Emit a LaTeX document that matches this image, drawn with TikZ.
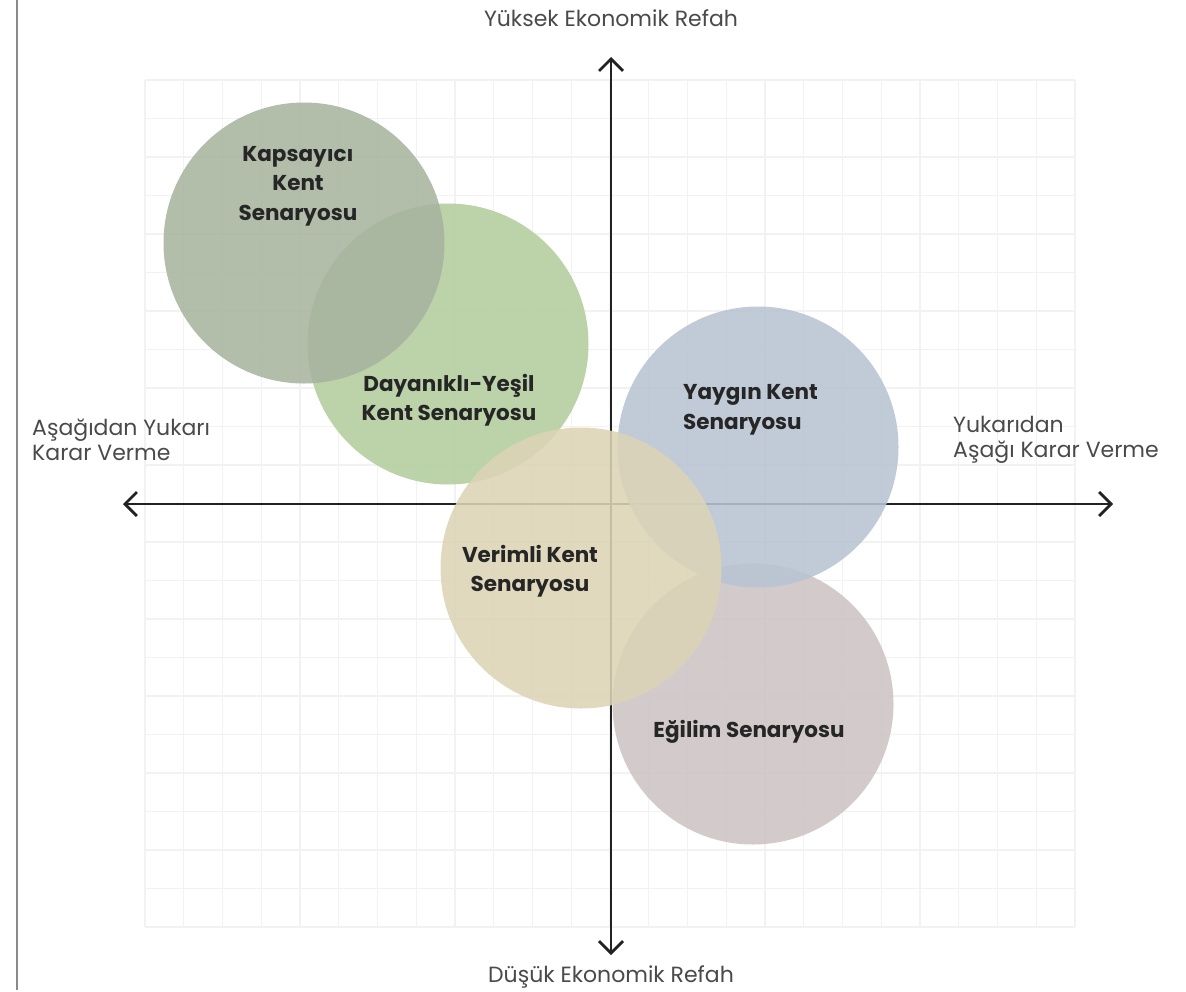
\documentclass[tikz,border=0pt]{standalone}
\usepackage{fontspec}
\setmainfont{Poppins}
\usetikzlibrary{arrows.meta}
\definecolor{kapc}{HTML}{A8B49F}
\definecolor{dayc}{HTML}{B3CE9E}
\definecolor{yayc}{HTML}{B8C4D2}
\definecolor{verc}{HTML}{DCD4B6}
\definecolor{egic}{HTML}{CEC3C4}
\definecolor{gridc}{HTML}{F2F2F2}
\definecolor{axc}{HTML}{222222}
\definecolor{labc}{HTML}{262626}
\definecolor{axtc}{HTML}{4A4A4A}
\definecolor{bordc}{HTML}{8A8A8A}
\begin{document}
\begin{tikzpicture}[x=1pt,y=-1pt,
  gridl/.style={draw=gridc,line width=1.4pt},
  axis/.style={draw=axc,line width=2.8pt,{Straight Barb[length=12pt,width=24pt]}-{Straight Barb[length=12pt,width=24pt]}},
  blob/.style={circle,inner sep=0pt,minimum size=281pt,opacity=0.88},
  lbl/.style={font=\fontsize{21.5}{29.5}\selectfont\bfseries,text=labc,align=center,inner sep=0pt},
  axlbl/.style={font=\fontsize{22}{25}\selectfont,text=axtc,inner sep=0pt}]
\useasboundingbox (0,0) rectangle (1186,991);
\fill[white] (0,0) rectangle (1186,991);
% left border
\coordinate (bt) at (17,0);
\coordinate (bb) at (17,990);
\draw[draw=bordc,line width=2pt] (bt) -- (bb);
% grid
\foreach \i in {0,...,24} {\draw[gridl] (145+38.75*\i,80) -- (145+38.75*\i,927);}
\foreach \j in {0,...,22} {\draw[gridl] (145,80+38.5*\j) -- (1075,80+38.5*\j);}
% axes
\coordinate (xl) at (123,504);
\coordinate (xr) at (1113,504);
\coordinate (yt) at (611,57);
\coordinate (yb) at (611,955);
\draw[axis] (xl) -- (xr);
\draw[axis] (yb) -- (yt);
% circles
\node[blob,fill=dayc] (cday) at (448,344) {};
\node[blob,fill=kapc] (ckap) at (304,243) {};
\node[blob,fill=egic] (cegi) at (753,704) {};
\node[blob,fill=yayc] (cyay) at (758,447) {};
\node[blob,fill=verc] (cver) at (581,568) {};
% labels
\node[lbl] (tkap) at (298,186) {Kapsayıcı\\Kent\\Senaryosu};
\node[lbl] (tday) at (449,400) {Dayanıklı-Yeşil\\Kent Senaryosu};
\node[lbl,align=left,anchor=west] (tyay) at (683,410) {Yaygın Kent\\Senaryosu};
\node[lbl] (tver) at (530,571) {Verimli Kent\\Senaryosu};
\node[lbl] (tegi) at (749,732) {Eğilim Senaryosu};
% axis labels
\node[axlbl] (atop) at (611,18) {Yüksek Ekonomik Refah};
\node[axlbl] (abot) at (611,977) {Düşük Ekonomik Refah};
\node[axlbl,align=left,anchor=west] (aleft) at (32,440) {Aşağıdan Yukarı\\Karar Verme};
\node[axlbl,align=left,anchor=west] (aright) at (953,440) {Yukarıdan\\Aşağı Karar Verme};
\end{tikzpicture}
\end{document}
